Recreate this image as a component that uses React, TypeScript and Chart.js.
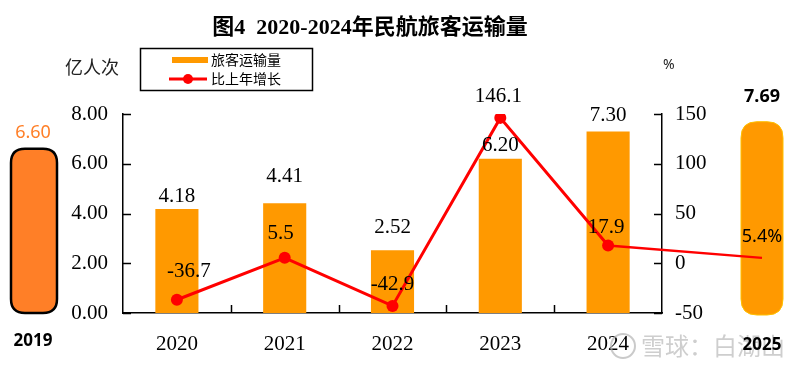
import React, { useEffect, useRef } from 'react';
import { Chart, registerables } from 'chart.js';

Chart.register(...registerables);

// ---- data ----
const categories = ['2020', '2021', '2022', '2023', '2024'];
const passengers = [4.18, 4.41, 2.52, 6.2, 7.3];
const growth = [-36.7, 5.5, -42.9, 146.1, 17.9];
const leftTicks = [0, 2, 4, 6, 8];
const rightTicks = [-50, 0, 50, 100, 150];
const year2019 = '2019';
const passengers2019 = 6.6;
const year2025 = '2025';
const passengers2025 = 7.69;
const growth2025 = 5.4;

const titleText = '图4  2020-2024年民航旅客运输量';
const leftUnit = '亿人次';
const rightUnit = '%';
const barSeriesName = '旅客运输量';
const lineSeriesName = '比上年增长';
const watermark = '雪球：白湖山';

// ---- layout / style (not data) ----
const barLabelGaps = [13, 27, 23, 13, 16];
const growthLabelOffsets = [[12, -28], [-4, -24], [0, -21], [-2, -21], [-2, -18]];

const SERIF = '"Liberation Serif", "Times New Roman", "Noto Sans CJK SC", serif';
const SANS = '"Noto Sans", "Noto Sans CJK SC", sans-serif';
const CJK = '"Noto Sans CJK SC", sans-serif';
const ORANGE = '#FF9900';
const ORANGE19 = '#FF7F27';
const RED = '#FF0000';

function roundRectPath(ctx: CanvasRenderingContext2D, x: number, y: number, w: number, h: number, r: number) {
  const rr = Math.min(r, w / 2, h / 2);
  ctx.beginPath();
  ctx.moveTo(x + rr, y);
  ctx.lineTo(x + w - rr, y);
  ctx.quadraticCurveTo(x + w, y, x + w, y + rr);
  ctx.lineTo(x + w, y + h - rr);
  ctx.quadraticCurveTo(x + w, y + h, x + w - rr, y + h);
  ctx.lineTo(x + rr, y + h);
  ctx.quadraticCurveTo(x, y + h, x, y + h - rr);
  ctx.lineTo(x, y + rr);
  ctx.quadraticCurveTo(x, y, x + rr, y);
  ctx.closePath();
}

const decorPlugin = {
  id: 'decor',
  afterDraw(chart: any) {
    const { ctx, chartArea, scales } = chart;
    const xS = scales.x;
    const yS = scales.y;
    const y1S = scales.y1;
    ctx.save();

    // title
    ctx.fillStyle = '#000';
    ctx.font = `bold 22px ${SERIF}`;
    ctx.textAlign = 'center';
    ctx.textBaseline = 'middle';
    ctx.fillText(titleText, 370, 28);

    // units
    ctx.font = `18px ${CJK}`;
    ctx.textAlign = 'left';
    ctx.fillStyle = '#222';
    ctx.fillText(leftUnit, 65, 67);
    ctx.font = `14px ${SANS}`;
    ctx.fillText(rightUnit, 663, 65);

    // legend box
    ctx.strokeStyle = '#000';
    ctx.lineWidth = 1.5;
    ctx.strokeRect(140.5, 48.5, 172, 42);
    ctx.fillStyle = ORANGE;
    ctx.fillRect(172, 57, 36, 6);
    ctx.strokeStyle = RED;
    ctx.lineWidth = 3;
    ctx.beginPath();
    ctx.moveTo(169, 79);
    ctx.lineTo(207, 79);
    ctx.stroke();
    ctx.fillStyle = RED;
    ctx.beginPath();
    ctx.arc(188, 79, 5, 0, Math.PI * 2);
    ctx.fill();
    ctx.fillStyle = '#000';
    ctx.font = `14px ${CJK}`;
    ctx.textAlign = 'left';
    ctx.fillText(barSeriesName, 211, 60);
    ctx.fillText(lineSeriesName, 211, 79);

    // inward tick marks
    ctx.strokeStyle = '#000';
    ctx.lineWidth = 1.5;
    ctx.beginPath();
    leftTicks.forEach((v) => {
      const py = Math.round(yS.getPixelForValue(v)) + 0.5;
      ctx.moveTo(chartArea.left, py);
      ctx.lineTo(chartArea.left + 8, py);
    });
    rightTicks.forEach((v) => {
      const py = Math.round(y1S.getPixelForValue(v)) + 0.5;
      ctx.moveTo(chartArea.right, py);
      ctx.lineTo(chartArea.right - 8, py);
    });
    for (let i = 1; i < categories.length; i++) {
      const px = Math.round((xS.getPixelForValue(i - 1) + xS.getPixelForValue(i)) / 2) + 0.5;
      ctx.moveTo(px, chartArea.bottom);
      ctx.lineTo(px, chartArea.bottom - 8);
    }
    ctx.stroke();

    // bar labels
    const barMeta = chart.getDatasetMeta(1);
    ctx.fillStyle = '#000';
    ctx.font = `21px ${SERIF}`;
    ctx.textAlign = 'center';
    ctx.textBaseline = 'middle';
    barMeta.data.forEach((el: any, i: number) => {
      ctx.fillText(passengers[i].toFixed(2), el.x, el.y - barLabelGaps[i]);
    });

    const lineMeta = chart.getDatasetMeta(0);
    const last = lineMeta.data[lineMeta.data.length - 1];
    const cx25 = 762;
    const py25 = y1S.getPixelForValue(growth2025);

    // 2019 pill
    const top19 = yS.getPixelForValue(passengers2019);
    const bot = yS.getPixelForValue(0);
    roundRectPath(ctx, 11, top19, 46, bot - top19, 14);
    ctx.fillStyle = ORANGE19;
    ctx.fill();
    ctx.strokeStyle = '#000';
    ctx.lineWidth = 2.5;
    ctx.stroke();
    ctx.fillStyle = ORANGE19;
    ctx.font = `18px ${SANS}`;
    ctx.fillText(passengers2019.toFixed(2), 33, 133);

    // 2025 pill
    const top25 = yS.getPixelForValue(passengers2025);
    roundRectPath(ctx, 741, top25, 42, bot + 2 - top25, 16);
    ctx.fillStyle = ORANGE;
    ctx.fill();
    ctx.strokeStyle = '#FFC000';
    ctx.lineWidth = 1;
    ctx.stroke();
    ctx.fillStyle = '#000';
    ctx.font = `bold 18px ${SANS}`;
    ctx.fillText(passengers2025.toFixed(2), cx25, 97);

    // extension line to 2025
    ctx.strokeStyle = RED;
    ctx.lineWidth = 2.5;
    ctx.beginPath();
    ctx.moveTo(last.x, last.y);
    ctx.lineTo(cx25, py25);
    ctx.stroke();

    ctx.fillStyle = '#000';
    ctx.font = `18px ${SANS}`;
    ctx.fillText(growth2025.toFixed(1) + '%', cx25, py25 - 21);

    // growth labels
    ctx.font = `21px ${SERIF}`;
    lineMeta.data.forEach((el: any, i: number) => {
      const [dx, dy] = growthLabelOffsets[i];
      ctx.fillText(growth[i].toFixed(1), el.x + dx, el.y + dy);
    });

    // watermark
    ctx.strokeStyle = 'rgba(180,180,180,0.7)';
    ctx.lineWidth = 2;
    ctx.beginPath();
    ctx.arc(623, 346, 12, 0, Math.PI * 2);
    ctx.stroke();
    ctx.fillStyle = 'rgba(185,185,185,0.7)';
    ctx.font = `24px ${CJK}`;
    ctx.textAlign = 'left';
    ctx.fillText(watermark, 641, 346);

    // year labels outside
    ctx.fillStyle = '#000';
    ctx.font = `bold 17px ${SANS}`;
    ctx.textAlign = 'center';
    ctx.fillText(year2019, 33, 341);
    ctx.fillText(year2025, cx25, 345);

    ctx.restore();
  },
};

export default function App() {
  const ref = useRef<HTMLCanvasElement | null>(null);

  useEffect(() => {
    if (!ref.current) return;
    const chart = new Chart(ref.current, {
      type: 'bar',
      data: {
        labels: categories,
        datasets: [
          {
            type: 'line',
            label: lineSeriesName,
            data: growth,
            yAxisID: 'y1',
            borderColor: RED,
            backgroundColor: RED,
            borderWidth: 3,
            pointRadius: 6,
            pointHoverRadius: 6,
            pointBorderWidth: 0,
            pointBackgroundColor: RED,
            tension: 0,
            order: 0,
          } as any,
          {
            type: 'bar',
            label: barSeriesName,
            data: passengers,
            yAxisID: 'y',
            backgroundColor: ORANGE,
            barPercentage: 0.4,
            categoryPercentage: 1,
            order: 1,
          } as any,
        ],
      },
      options: {
        animation: false,
        responsive: false,
        devicePixelRatio: 1,
        layout: { padding: { top: 114, left: 0, right: 0, bottom: 0 } },
        plugins: {
          legend: { display: false },
          tooltip: { enabled: false },
          title: { display: false },
        },
        scales: {
          x: {
            position: 'bottom',
            offset: true,
            grid: { display: false },
            border: { display: true, color: '#000', width: 1.5 },
            ticks: { color: '#000', font: { family: SERIF, size: 21 }, padding: 11, maxRotation: 0 },
            afterFit: (s: any) => { s.height = 54; },
          },
          y: {
            position: 'left',
            min: 0,
            max: 8,
            grid: { display: false },
            border: { display: true, color: '#000', width: 1.5 },
            ticks: {
              stepSize: 2,
              color: '#000',
              font: { family: SERIF, size: 21 },
              padding: 7,
              callback: (v: any) => Number(v).toFixed(2),
            },
            afterFit: (s: any) => { s.width = 123; },
          },
          y1: {
            position: 'right',
            min: -50,
            max: 150,
            grid: { display: false },
            border: { display: true, color: '#000', width: 1.5 },
            ticks: {
              stepSize: 50,
              color: '#000',
              font: { family: SERIF, size: 21 },
              padding: 5,
            },
            afterFit: (s: any) => { s.width = 138; },
          },
        },
      } as any,
      plugins: [decorPlugin],
    });
    return () => chart.destroy();
  }, []);

  return (
    <div style={{ position: 'fixed', left: 0, top: 0, width: 800, height: 367, background: '#fff' }}>
      <canvas ref={ref} width={800} height={367} style={{ width: 800, height: 367, display: 'block' }} />
    </div>
  );
}
